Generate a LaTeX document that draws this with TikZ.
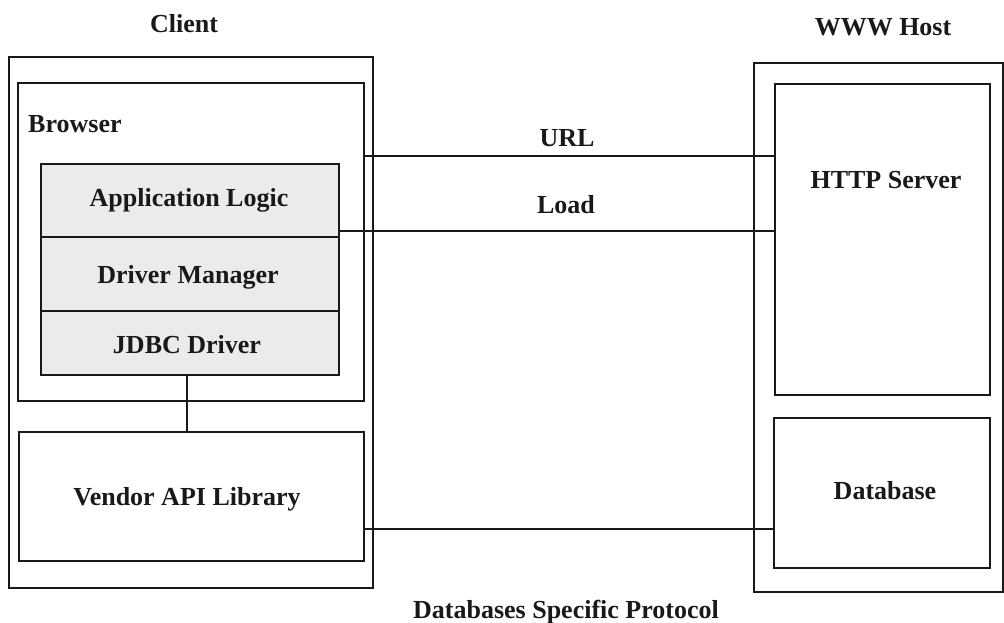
\documentclass[tikz,border=0pt]{standalone}
\usepackage{fontspec}
\setmainfont{Liberation Serif}
\usetikzlibrary{fit}
\begin{document}
\begin{tikzpicture}[x=1pt,y=-1pt,
  box/.style={draw=black!90, line width=1.5pt, inner sep=0pt, outer sep=0pt},
  cell/.style={box, fill=black!8},
  lbl/.style={inner sep=0pt, font=\fontsize{26}{30}\selectfont\bfseries, text=black!90},
  link/.style={draw=black!90, line width=1.5pt}]
\useasboundingbox (0,0) rectangle (1004,622);

% client side
\node[box, fit={(9,57) (373,588)}] (client) {};
\node[box, fit={(18,83) (364,401)}] (browser) {};
\node[cell, fit={(41,164) (339,237)}] (app) {};
\node[cell, fit={(41,237) (339,311)}] (drv) {};
\node[cell, fit={(41,311) (339,375)}] (jdbc) {};
\node[box, fit={(19,432) (364,561)}] (vendor) {};

% host side
\node[box, fit={(754,63) (1003,592)}] (host) {};
\node[box, fit={(775,84) (990,395)}] (http) {};
\node[box, fit={(774,418) (990,568)}] (db) {};

% heights of the horizontal links and x of the vertical one
\coordinate (urly) at (0,156);
\coordinate (loady) at (0,231);
\coordinate (dbly) at (0,529);
\coordinate (vx) at (187,0);

% connectors
\draw[link] (browser.east |- urly) -- (http.west |- urly);
\draw[link] (app.east |- loady) -- (http.west |- loady);
\draw[link] (jdbc.south -| vx) -- (vendor.north -| vx);
\draw[link] (vendor.east |- dbly) -- (db.west |- dbly);

% labels
\node[lbl, anchor=base] (tclient) at (184,32) {Client};
\node[lbl, anchor=base] (thost) at (883,35) {WWW Host};
\node[lbl, anchor=base west] (tbrowser) at (28,132) {Browser};
\node[lbl, anchor=base] (tapp) at (189,206) {Application Logic};
\node[lbl, anchor=base] (tdrv) at (188,283) {Driver Manager};
\node[lbl, anchor=base] (tjdbc) at (187,353) {JDBC Driver};
\node[lbl, anchor=base] (turl) at (567,146) {URL};
\node[lbl, anchor=base] (tload) at (566,213) {Load};
\node[lbl, anchor=base] (thttp) at (886,188) {HTTP Server};
\node[lbl, anchor=base] (tvendor) at (187,505) {Vendor API Library};
\node[lbl, anchor=base] (tdb) at (885,499) {Database};
\node[lbl, anchor=base] (tproto) at (566,618) {Databases Specific Protocol};
\end{tikzpicture}
\end{document}
